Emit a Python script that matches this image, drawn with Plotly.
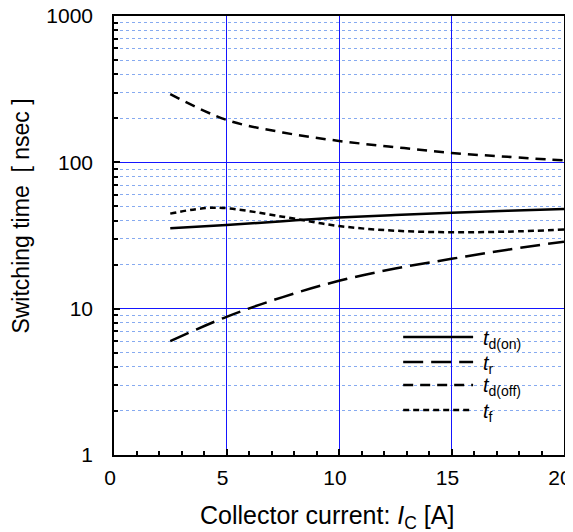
import plotly.graph_objects as go

# ---- data ----
x_on = [2.5, 5, 7.5, 10, 12.5, 15, 17.5, 20]
td_on = [35.4, 37.3, 39.6, 41.9, 43.7, 45.3, 46.7, 48.0]

x_r = [2.5, 5, 7.5, 10, 12.5, 15, 17.5, 20]
t_r = [6.0, 8.8, 12.0, 15.5, 18.8, 21.9, 25.3, 28.7]

x_off = [2.5, 5, 7.5, 10, 12.5, 15, 17.5, 20]
td_off = [292, 195, 160, 140, 127, 116, 109, 103]

x_f = [2.5, 4.5, 7.5, 10, 12.5, 15, 17.5, 20]
t_f = [44.6, 49.0, 42.5, 36.7, 34.1, 33.3, 33.6, 34.7]

legend_labels = ["<i>t</i><sub>d(on)</sub>", "<i>t</i><sub>r</sub>",
                 "<i>t</i><sub>d(off)</sub>", "<i>t</i><sub>f</sub>"]
x_ticks = [0, 5, 10, 15, 20]
y_ticks = [1, 10, 100, 1000]
x_title = "Collector current: <i>I</i><sub>C</sub> [A]"
y_title = "Switching time\u00a0\u00a0[ nsec ]"

FONT = "Liberation Sans, Arial, sans-serif"
dashes = ["solid", "20px,8px", "10px,7px", "6px,4px"]

fig = go.Figure()
series = [(x_on, td_on), (x_r, t_r), (x_off, td_off), (x_f, t_f)]
for (xs, ys), d in zip(series, dashes):
    fig.add_trace(go.Scatter(x=xs, y=ys, mode="lines",
                             line=dict(color="black", width=2.5, dash=d, shape="spline", smoothing=1.0),
                             showlegend=False, hoverinfo="skip"))

# The page body adds an 8px offset; the figure is sized to fill the rest.
OFF = 8
W, H = 573 - OFF, 532 - OFF
L, R, T, B = 113.5 - OFF, 9, 16 - OFF, 77
pw, ph = W - L - R, H - T - B
def px(x): return (x - OFF - L) / pw          # reference pixel -> paper
def py(y): return (H - B - (y - OFF)) / ph

# manual legend (long line samples like the reference)
rows = [337, 362, 385, 410]
for lab, d, ry in zip(legend_labels, dashes, rows):
    fig.add_shape(type="line", xref="paper", yref="paper",
                  x0=px(403), x1=px(473), y0=py(ry), y1=py(ry),
                  line=dict(color="black", width=2.5, dash=d))
    fig.add_annotation(xref="paper", yref="paper", x=px(481), y=py(ry + 2),
                       text=lab, showarrow=False, xanchor="left", yanchor="middle",
                       font=dict(family=FONT, size=20, color="black"))

# axis titles as annotations (placed like the reference)
fig.add_annotation(xref="paper", yref="paper", x=px(327), y=py(517),
                   text=x_title, showarrow=False, xanchor="center", yanchor="middle",
                   font=dict(family=FONT, size=25, color="black"))
fig.add_annotation(xref="paper", yref="paper", x=px(20), y=py(216),
                   text=y_title, showarrow=False, textangle=-90,
                   xanchor="center", yanchor="middle",
                   font=dict(family=FONT, size=23, color="black"))

fig.update_layout(
    width=W, height=H,
    margin=dict(l=L, r=R, t=T, b=B, pad=0),
    paper_bgcolor="white", plot_bgcolor="white",
    font=dict(family=FONT, size=21, color="black"),
    showlegend=False,
)
fig.update_xaxes(
    range=[0, 20], tickmode="array", tickvals=x_ticks,
    ticks="inside", ticklen=6, tickcolor="black", tickwidth=1.5,
    showline=True, linecolor="black", linewidth=1.5, mirror=True,
    showgrid=True, gridcolor="#1515ff", gridwidth=1,
    zeroline=False, ticklabelstandoff=3, ticklabelshift=-4,
    ticklabeloverflow="allow", automargin=False,
    minor=dict(dtick=1, ticks="inside", ticklen=4, tickcolor="black", showgrid=False),
    tickfont=dict(family=FONT, size=21),
)
minor_vals = [m * 10 ** e for e in range(0, 3) for m in range(2, 10)]
fig.update_yaxes(
    type="log", range=[0, 3], tickmode="array", tickvals=y_ticks,
    ticktext=[str(v) for v in y_ticks],
    ticks="inside", ticklen=6, tickcolor="black", tickwidth=1.5,
    showline=True, linecolor="black", linewidth=1.5, mirror=True,
    showgrid=True, gridcolor="#1515ff", gridwidth=1,
    zeroline=False, ticklabelstandoff=15, ticklabeloverflow="allow",
    automargin=False,
    minor=dict(tickmode="array", tickvals=minor_vals, ticks="inside", ticklen=4,
               tickcolor="black", showgrid=True, gridcolor="#86aaf0",
               griddash="dot", gridwidth=1),
    tickfont=dict(family=FONT, size=21),
)

fig.write_html("out.html")
